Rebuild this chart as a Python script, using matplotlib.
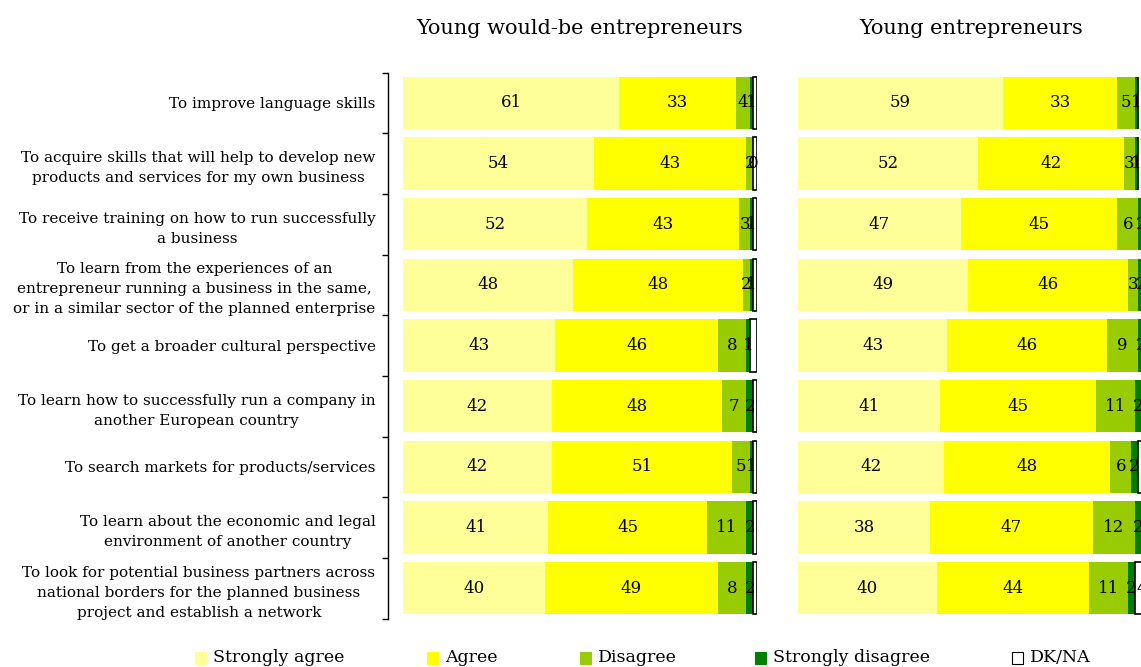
import numpy as np
import matplotlib
matplotlib.use("Agg")
import matplotlib.pyplot as plt
from matplotlib.patches import Rectangle

plt.rcParams['font.family'] = ['DejaVu Serif']

categories = [
    "To improve language skills",
    "To acquire skills that will help to develop new\nproducts and services for my own business",
    "To receive training on how to run successfully\na business",
    "To learn from the experiences of an\nentrepreneur running a business in the same,\nor in a similar sector of the planned enterprise",
    "To get a broader cultural perspective",
    "To learn how to successfully run a company in\nanother European country",
    "To search markets for products/services",
    "To learn about the economic and legal\nenvironment of another country",
    "To look for potential business partners across\nnational borders for the planned business\nproject and establish a network",
]

series_names = ["Strongly agree", "Agree", "Disagree", "Strongly disagree", "DK/NA"]
colors = ["#FFFF99", "#FFFF00", "#99CC00", "#008000", "#FFFFFF"]

# Young would-be entrepreneurs
wb_strongly_agree = [61, 54, 52, 48, 43, 42, 42, 41, 40]
wb_agree = [33, 43, 43, 48, 46, 48, 51, 45, 49]
wb_disagree = [4, 2, 3, 2, 8, 7, 5, 11, 8]
wb_strongly_disagree = [1, 0, 1, 1, 1, 2, 1, 2, 2]
wb_dkna = [1, 1, 1, 1, 2, 1, 1, 1, 1]

# Young entrepreneurs
ye_strongly_agree = [59, 52, 47, 49, 43, 41, 42, 38, 40]
ye_agree = [33, 42, 45, 46, 46, 45, 48, 47, 44]
ye_disagree = [5, 3, 6, 3, 9, 11, 6, 12, 11]
ye_strongly_disagree = [1, 1, 2, 2, 2, 2, 2, 2, 2]
ye_dkna = [0, 0, 0, 0, 0, 0, 2, 1, 4]

W, H = 1141, 667
fig = plt.figure(figsize=(W / 100, H / 100), dpi=100)
fig.patch.set_facecolor("white")

y = np.arange(len(categories))


def draw_panel(ax, data, title):
    left = np.zeros(len(categories))
    for k, vals in enumerate(data):
        vals = np.array(vals, dtype=float)
        edge = "black" if k == 4 else "none"
        ax.barh(y, vals, left=left, height=0.86, color=colors[k],
                edgecolor=edge, linewidth=1.2 if k == 4 else 0)
        for i, v in enumerate(vals):
            show = (k < 3 and v > 0) or k == 3 or (k == 4 and v >= 3)
            if show:
                ax.text(left[i] + v / 2, y[i], f"{int(v)}", ha="center",
                        va="center", fontsize=12, color="black")
        left += vals
    ax.set_xlim(0, 100)
    ax.set_ylim(len(categories) - 0.5, -0.5)
    ax.set_xticks([])
    ax.set_title(title, fontsize=15, pad=28)
    for s in ["top", "right", "bottom"]:
        ax.spines[s].set_visible(False)


ax1 = fig.add_axes([403 / W, (H - 618.5) / H, 354 / W, 546 / H])
draw_panel(ax1, [wb_strongly_agree, wb_agree, wb_disagree,
                 wb_strongly_disagree, wb_dkna], "Young would-be entrepreneurs")
ax1.spines["left"].set_position(("outward", 15 * 0.72))
ax1.spines["left"].set_linewidth(1.0)
ax1.set_yticks(np.arange(-0.5, len(categories), 1.0))
ax1.set_yticklabels([])
ax1.tick_params(axis="y", which="major", length=4.5, width=1.0, direction="out")
ax1.set_yticks(y, minor=True)
ax1.set_yticklabels(categories, minor=True, fontsize=11, linespacing=1.55)
ax1.tick_params(axis="y", which="minor", length=0, pad=9)
for lbl in ax1.get_yticklabels(minor=True):
    lbl.set_multialignment("center")

ax2 = fig.add_axes([798 / W, (H - 618.5) / H, 347 / W, 546 / H])
draw_panel(ax2, [ye_strongly_agree, ye_agree, ye_disagree,
                 ye_strongly_disagree, ye_dkna], "Young entrepreneurs")
ax2.spines["left"].set_visible(False)
ax2.set_yticks([])

# legend along the bottom
leg_x = [195, 427, 580, 755, 1012]
for x0, name, c in zip(leg_x, series_names, colors):
    ec = "black" if c == "#FFFFFF" else c
    fig.patches.append(Rectangle((x0 / W, (H - 664) / H), 11 / W, 12 / H,
                                 transform=fig.transFigure, facecolor=c,
                                 edgecolor=ec, linewidth=0.8))
    fig.text((x0 + 18) / W, (H - 657) / H, name, fontsize=12.5, va="center",
             ha="left")

fig.savefig("out.png", dpi=100)
